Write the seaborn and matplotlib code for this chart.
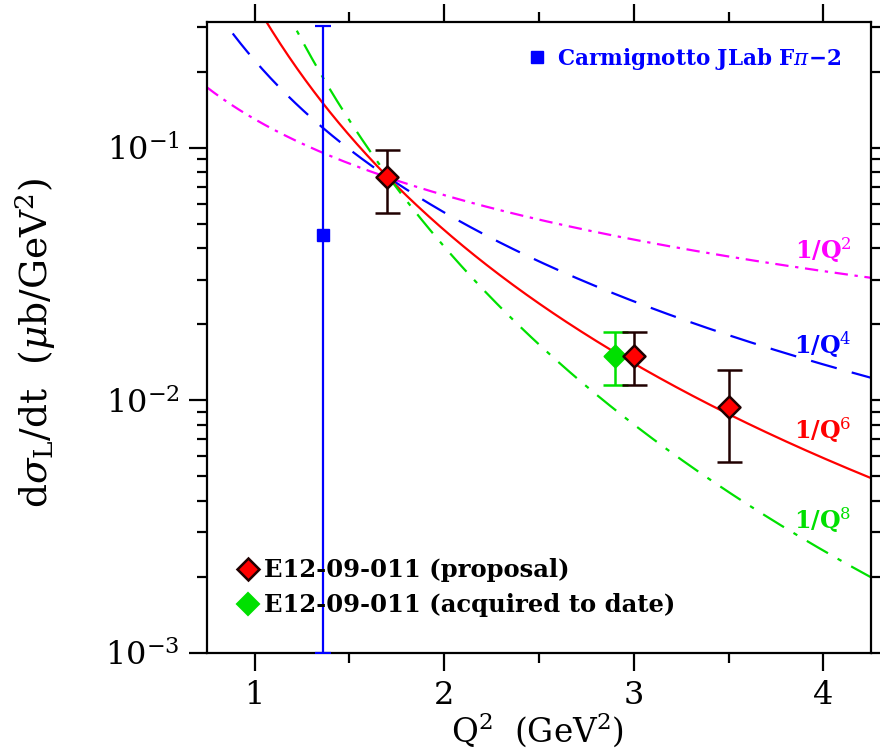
import numpy as np
import pandas as pd
import matplotlib
matplotlib.use("Agg")
import matplotlib.pyplot as plt
import seaborn as sns
from matplotlib.lines import Line2D
from matplotlib.ticker import LogLocator, LogFormatterSciNotation, MultipleLocator, NullFormatter

# E12-09-011 projected points (proposal)
prop_q2 = [1.7, 3.0, 3.5]
prop_xs = [0.0767, 0.0150, 0.00941]
prop_lo = [0.0553, 0.0115, 0.0057]
prop_hi = [0.0983, 0.0187, 0.0132]

# E12-09-011 acquired to date
acq_q2 = [2.9]
acq_xs = [0.0150]
acq_lo = [0.0115]
acq_hi = [0.0187]

# Carmignotto JLab Fpi-2
carm_q2 = [1.36]
carm_xs = [0.0453]
carm_lo = [0.001]
carm_hi = [0.305]

# 1/Q^n scaling curves: exponent n, normalisation, colour, dash style, label position
curve_n = [2, 4, 6, 8]
curve_norm = [0.130, 0.222, 0.378, 0.65]
curve_colors = ["#ff00ff", "#0000ff", "#ff0000", "#00e000"]
curve_dashes = [(6, 3, 1.5, 3), (12, 7), (), (11, 5, 2, 5)]
label_x = [4.15, 4.15, 4.15, 4.15]
label_y = [0.0394, 0.0166, 0.00763, 0.00336]

sns.set_theme(style="ticks")
plt.rcParams["font.family"] = ["DejaVu Serif"]
plt.rcParams["mathtext.fontset"] = "dejavuserif"
for key in ["text.color", "axes.labelcolor", "xtick.color", "ytick.color", "axes.edgecolor"]:
    plt.rcParams[key] = "black"

fig = plt.figure(figsize=(8.8, 7.49), dpi=100)
ax = fig.add_axes([0.2356, 0.1286, 0.7538, 0.8424])

q2_grid = np.linspace(0.75, 4.25, 400)
frames = []
for n, c in zip(curve_n, curve_norm):
    frames.append(pd.DataFrame({"Q2": q2_grid, "xs": c / q2_grid ** (n // 2), "n": n}))
curves = pd.concat(frames, ignore_index=True)

for n, col, ds in zip(curve_n, curve_colors, curve_dashes):
    sub = curves[curves["n"] == n]
    sns.lineplot(data=sub, x="Q2", y="xs", ax=ax, color=col, lw=1.6,
                 dashes=False, legend=False, estimator=None)
    ln = ax.lines[-1]
    if ds:
        ln.set_dashes(ds)

for n, col, lx, ly in zip(curve_n, curve_colors, label_x, label_y):
    ax.text(lx, ly, rf"1/Q$^{{{n}}}$", color=col, fontsize=17, fontweight="bold",
            ha="right", va="center")

err_col = "#200000"
# Carmignotto point
ax.errorbar(carm_q2, carm_xs,
            yerr=[np.array(carm_xs) - np.array(carm_lo), np.array(carm_hi) - np.array(carm_xs)],
            fmt="s", color="#0000ff", ms=8, lw=1.6, capsize=6, capthick=1.6, zorder=4)

ax.errorbar(acq_q2, acq_xs,
            yerr=[np.array(acq_xs) - np.array(acq_lo), np.array(acq_hi) - np.array(acq_xs)],
            fmt="none", ecolor="#00e000", lw=1.8, capsize=9, capthick=1.8, zorder=5)
ax.errorbar(prop_q2, prop_xs,
            yerr=[np.array(prop_xs) - np.array(prop_lo), np.array(prop_hi) - np.array(prop_xs)],
            fmt="none", ecolor=err_col, lw=1.8, capsize=9, capthick=1.8, zorder=5)

pts = pd.DataFrame({"Q2": acq_q2 + prop_q2, "xs": acq_xs + prop_xs,
                    "set": ["acq"] * len(acq_q2) + ["prop"] * len(prop_q2)})
sns.scatterplot(data=pts[pts["set"] == "acq"], x="Q2", y="xs", ax=ax, marker="D",
                s=125, color="#00e000", edgecolor="#00e000", linewidth=1.5, zorder=6, legend=False)
sns.scatterplot(data=pts[pts["set"] == "prop"], x="Q2", y="xs", ax=ax, marker="D",
                s=125, color="#ff0000", edgecolor=err_col, linewidth=1.8, zorder=7, legend=False)

ax.set_yscale("log")
ax.set_xlim(0.75, 4.25)
ax.set_ylim(1e-3, 10 ** -0.5)

ax.xaxis.set_major_locator(MultipleLocator(1))
ax.xaxis.set_minor_locator(MultipleLocator(0.5))
ax.yaxis.set_major_locator(LogLocator(base=10, numticks=10))
ax.yaxis.set_minor_locator(LogLocator(base=10, subs=np.arange(2, 10), numticks=20))
ax.yaxis.set_major_formatter(LogFormatterSciNotation())
ax.yaxis.set_minor_formatter(NullFormatter())

ax.tick_params(which="both", direction="out", top=True, right=True, width=1.6,
               color="black", labelcolor="black", labelsize=23, pad=7)
ax.tick_params(which="major", length=13)
ax.tick_params(which="minor", length=7)
for sp in ax.spines.values():
    sp.set_linewidth(1.6)
    sp.set_color("black")

ax.set_xlabel(r"Q$^2$  (GeV$^2$)", fontsize=23.5)
ax.xaxis.set_label_coords(0.497, -0.092)
ax.set_ylabel(r"d$\sigma_{\rm L}$/dt  ($\mu$b/GeV$^2$)", fontsize=27)
ax.yaxis.set_label_coords(-0.225, 0.4916)

h_prop = Line2D([], [], ls="none", marker="D", ms=11, mfc="#ff0000", mec=err_col, mew=1.8)
h_acq = Line2D([], [], ls="none", marker="D", ms=11, mfc="#00e000", mec="#00e000", mew=1.5)
leg1 = ax.legend([h_prop, h_acq], ["E12-09-011 (proposal)", "E12-09-011 (acquired to date)"],
                 loc="lower left", bbox_to_anchor=(0.047, 0.056), frameon=False,
                 handlelength=0.75, handletextpad=0.3, labelspacing=0.45, borderpad=0,
                 borderaxespad=0, prop={"size": 17.5, "weight": "bold"})
ax.add_artist(leg1)

h_carm = Line2D([], [], ls="none", marker="s", ms=9, mfc="#0000ff", mec="#0000ff")
leg2 = ax.legend([h_carm], ["Carmignotto JLab F$\\pi$\u22122"], loc="upper right",
                 bbox_to_anchor=(0.955, 0.962), frameon=False, handlelength=0.8,
                 handletextpad=0.5, borderpad=0, borderaxespad=0,
                 prop={"size": 15.5, "weight": "bold"})
for t in leg2.get_texts():
    t.set_color("#0000ff")

fig.savefig("out.png", dpi=100)
